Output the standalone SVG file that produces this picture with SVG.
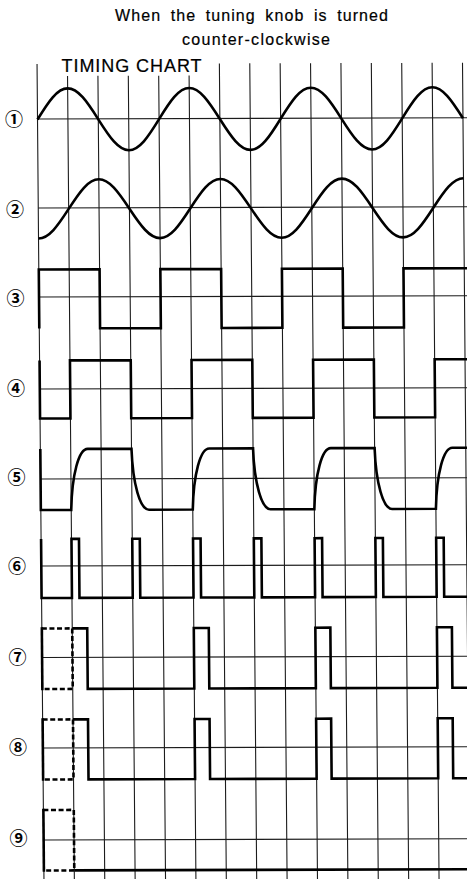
<svg xmlns="http://www.w3.org/2000/svg" width="467" height="879" viewBox="0 0 467 879">
<style>
.t{font-family:"Liberation Sans",Arial,sans-serif;fill:#000;stroke:#000;stroke-width:0.2}
.n{font-family:"Noto Sans CJK JP","DejaVu Sans",sans-serif;font-size:18px;font-weight:700;fill:#000;text-anchor:middle}
.g{stroke:#1c1c1c;stroke-width:1.1;fill:none}
.w{stroke:#000;stroke-width:2.6;fill:none;stroke-linejoin:miter;stroke-linecap:butt}
.d{stroke:#000;stroke-width:2.6;fill:none;stroke-dasharray:5 2.6}
</style>
<rect width="467" height="879" fill="#fff"/>
<g id="title">
<text class="t" x="115" y="21" font-size="16" word-spacing="4" textLength="273" lengthAdjust="spacing">When the tuning knob is turned</text>
<text class="t" x="182" y="45" font-size="16" textLength="148" lengthAdjust="spacing">counter-clockwise</text>
<text class="t" x="61.5" y="72" font-size="18" textLength="140" lengthAdjust="spacing">TIMING CHART</text>
</g>
<g id="grid" class="g" transform="matrix(1,-0.003,0.0085,1,-1.003,0.113)">
<path d="M37.5,64V882M67.89,76V882M98.28,76V882M128.67,76V882M159.06,76V882M189.45,76V882M219.84,64V882M250.23,64V882M280.62,64V882M311.01,64V882M341.4,64V882M371.79,64V882M402.18,64V882M432.57,64V882M462.96,64V882"/>
<path d="M37.5,119H472M37.5,208H472M37.5,297H472M37.5,389H472M37.5,479H472M37.5,566H472M37.5,657.5H472M37.5,748H472M37.5,840H472"/>
</g>
<g id="row1">
<text class="n" x="14" y="126">①</text>
<path class="w" transform="matrix(1,-0.003,0.0085,1,-1.003,0.113)" d="M37.5,119.5c11.06,-17.73 19.91,-31 30.39,-31s19.33,13.27 30.39,31s19.91,31 30.39,31s19.33,-13.27 30.39,-31s19.91,-31 30.39,-31s19.33,13.27 30.39,31s19.91,31 30.39,31s19.33,-13.27 30.39,-31s19.91,-31 30.39,-31s19.33,13.27 30.39,31s19.91,31 30.39,31s19.33,-13.27 30.39,-31s19.91,-31 30.39,-31s19.33,13.27 30.39,31"/>
</g>
<g id="row2">
<text class="n" x="15" y="216">②</text>
<path class="w" transform="matrix(1,-0.003,0.0085,1,-1.003,0.113)" d="M37.5,238.5c10.48,0 19.33,-12.63 30.39,-29.5s19.91,-29.5 30.39,-29.5s19.33,12.63 30.39,29.5s19.91,29.5 30.39,29.5s19.33,-12.63 30.39,-29.5s19.91,-29.5 30.39,-29.5s19.33,12.63 30.39,29.5s19.91,29.5 30.39,29.5s19.33,-12.63 30.39,-29.5s19.91,-29.5 30.39,-29.5s19.33,12.63 30.39,29.5s19.91,29.5 30.39,29.5s19.33,-12.63 30.39,-29.5s19.91,-29.5 30.39,-29.5"/>
</g>
<g id="row3">
<text class="n" x="15.5" y="305">③</text>
<path class="w" transform="matrix(1,-0.003,0.0085,1,-1.003,0.113)" d="M37.5,328.5V269.5H98.28V328.5H159.06V269.5H219.84V328.5H280.62V269.5H341.4V328.5H402.18V269.5H472"/>
</g>
<g id="row4">
<text class="n" x="16" y="395">④</text>
<path class="w" transform="matrix(1,-0.003,0.0085,1,-1.003,0.113)" d="M37.5,360.5V418.5H67.89V360.5H128.67V418.5H189.45V360.5H250.23V418.5H311.01V360.5H371.79V418.5H432.57V360.5H472"/>
</g>
<g id="row5">
<text class="n" x="16.5" y="484">⑤</text>
<path class="w" transform="matrix(1,-0.003,0.0085,1,-1.003,0.113)" d="M37.5,449V510H67.89c1,-35 8,-61 17,-61H128.67c1,35 8,61 17,61H189.45c1,-35 8,-61 17,-61H250.23c1,35 8,61 17,61H311.01c1,-35 8,-61 17,-61H371.79c1,35 8,61 17,61H432.57c1,-35 8,-61 17,-61H472"/>
</g>
<g id="row6">
<text class="n" x="17" y="573">⑥</text>
<path class="w" transform="matrix(1,-0.003,0.0085,1,-1.003,0.113)" d="M37.5,539V598H67.89V539H75.4V598H128.67V539H136.2V598H189.45V539H197V598H250.23V539H257.8V598H311.01V539H318.5V598H371.79V539H379.3V598H432.57V539H440.1V598H472"/>
</g>
<g id="row7">
<text class="n" x="17.5" y="664">⑦</text>
<g transform="matrix(1,-0.003,0.0085,1,-1.003,0.113)">
<path class="d" d="M37.5,628.5H67.89V689H37.5"/>
<path class="w" d="M37.5,627.2V690.3"/>
<path class="w" d="M67.89,628.5H82.89V689H189.45V628.5H204.45V689H311.01V628.5H326.01V689H432.57V628.5H447.57V689H472"/>
</g>
</g>
<g id="row8">
<text class="n" x="18" y="754">⑧</text>
<g transform="matrix(1,-0.003,0.0085,1,-1.003,0.113)">
<path class="d" d="M37.5,719.5H67.89V779.5H37.5"/>
<path class="w" d="M37.5,718.2V780.8"/>
<path class="w" d="M67.89,719.5H82.89V779.5H189.45V719.5H204.45V779.5H311.01V719.5H326.01V779.5H432.57V719.5H447.57V779.5H472"/>
</g>
</g>
<g id="row9">
<text class="n" x="18.5" y="845">⑨</text>
<g transform="matrix(1,-0.003,0.0085,1,-1.003,0.113)">
<path class="d" d="M37.5,810H67.89V870.5H37.5"/>
<path class="w" d="M37.5,808.7V871.8"/>
<path class="w" d="M67.89,870.5H472"/>
</g>
</g>
</svg>
